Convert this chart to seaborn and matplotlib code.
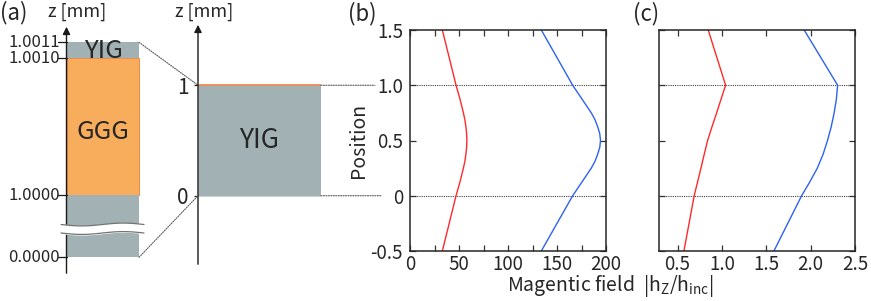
import numpy as np
import matplotlib
matplotlib.use("Agg")
import matplotlib.pyplot as plt
import seaborn as sns
from matplotlib.patches import Rectangle, ConnectionPatch
from matplotlib.transforms import blended_transform_factory

# ---- data ----
pos_b = [-0.5, -0.25, 0.0, 0.125, 0.25, 0.3125, 0.375, 0.4375, 0.5,
         0.5625, 0.625, 0.6875, 0.75, 0.875, 1.0, 1.25, 1.5]
red_b = [33, 40, 47, 51, 54.5, 56, 57, 57.8, 58,
         57.8, 57, 56, 54.5, 51, 47, 40, 33]
blue_b = [134, 150, 166, 175.5, 185, 188.8, 191.5, 193.6, 194.4,
          193.6, 191.5, 188.8, 185, 175.5, 166, 150, 134]

pos_c = [-0.5, 0.0, 0.125, 0.25, 0.375, 0.5, 0.625, 0.75, 0.875, 1.0, 1.5]
red_c = [0.571, 0.687, 0.725, 0.763, 0.80, 0.838, 0.888, 0.94, 0.99, 1.041, 0.845]
blue_c = [1.586, 1.898, 1.99, 2.075, 2.14, 2.19, 2.232, 2.265, 2.29, 2.304, 1.927]

layer_names = ["YIG", "GGG", "YIG"]
z_labels_a = ["1.0011", "1.0010", "1.0000", "0.0000"]
z_ticks_mid = [0, 1]
yig_range = (0.0, 1.0)

b_xticks = [0, 50, 100, 150, 200]
b_yticks = [-0.5, 0, 0.5, 1.0, 1.5]
b_ylabels = ["-0.5", "0", "0.5", "1.0", "1.5"]
c_xticks = [0.5, 1.0, 1.5, 2.0, 2.5]

YIG_C = "#a2b2b4"
GGG_C = "#f7ad5c"
EDGE_C = "#ec8a50"
RED = "#ff2a2a"
BLUE = "#2f62f0"

sns.set_theme(style="ticks")
plt.rcParams["font.family"] = ["Noto Sans CJK JP", "DejaVu Sans"]
plt.rcParams["axes.linewidth"] = 1.1

W, H = 871, 301
fig = plt.figure(figsize=(W / 100, H / 100), dpi=100)
fig.patch.set_facecolor("white")

def frac(x0, y0, x1, y1):
    return [x0 / W, 1 - y1 / H, (x1 - x0) / W, (y1 - y0) / H]

# ---- (b) and (c) ----
ax_b = fig.add_axes(frac(410, 30, 606, 251))
ax_c = fig.add_axes(frac(659, 30, 855, 251))

sns.lineplot(x=red_b, y=pos_b, sort=False, estimator=None, color=RED, lw=1.0, ax=ax_b)
sns.lineplot(x=blue_b, y=pos_b, sort=False, estimator=None, color=BLUE, lw=1.0, ax=ax_b)
sns.lineplot(x=red_c, y=pos_c, sort=False, estimator=None, color=RED, lw=1.0, ax=ax_c)
sns.lineplot(x=blue_c, y=pos_c, sort=False, estimator=None, color=BLUE, lw=1.0, ax=ax_c)

for ax in (ax_b, ax_c):
    ax.set_ylim(-0.5, 1.5)
    ax.set_yticks(b_yticks)
    for yv in yig_range:
        ax.axhline(yv, color="0.25", ls=(0, (1, 1)), lw=0.8, zorder=0)
    ax.tick_params(which="both", direction="in", top=True, right=True,
                   length=4, width=0.9, labelsize=13.5, pad=2, color="0.2")
    ax.tick_params(axis="y", pad=5)
    ax.set_xlabel("")
    ax.set_ylabel("")

ax_b.set_xlim(0, 200)
ax_b.set_xticks(b_xticks)
ax_b.set_xticks([25, 75, 125, 175], minor=True)
ax_b.set_yticklabels(b_ylabels)
ax_b.set_ylabel("Position", fontsize=14, labelpad=1)

ax_c.set_xlim(0.29, 2.5)
ax_c.set_xticks(c_xticks)
ax_c.set_xticklabels([f"{v:.1f}" for v in c_xticks])
ax_c.set_yticklabels([])

fig.text(507 / W, 1 - 286 / H, r"Magentic field  $\mathregular{|h_{Z}/h_{inc}|}$",
         fontsize=14, ha="left", va="center")

# ---- middle schematic (same z scale as (b)) ----
top_m = 1.5 + 8 / 110.5
bot_m = -0.5 - 16 / 110.5
ax_m = fig.add_axes(frac(198, 22, 321, 267))
ax_m.set_xlim(0, 1)
ax_m.set_ylim(bot_m, top_m)
for s in ax_m.spines.values():
    s.set_visible(False)
ax_m.set_xticks([])
ax_m.set_yticks(z_ticks_mid)
ax_m.set_yticklabels([str(v) for v in z_ticks_mid])
ax_m.tick_params(axis="y", direction="out", length=3, width=0.9, labelsize=15, pad=4)
ax_m.add_patch(Rectangle((0, yig_range[0]), 1, yig_range[1] - yig_range[0],
                         facecolor=YIG_C, edgecolor="#c8d0d0", lw=0.6))
ax_m.plot([0, 1], [yig_range[1], yig_range[1]], color=EDGE_C, lw=1.3)
ax_m.text(0.5, 0.5, layer_names[0], ha="center", va="center", fontsize=19)
ax_m.annotate("", xy=(0, top_m), xytext=(0, bot_m), xycoords="data",
              arrowprops=dict(arrowstyle="-|>", color="k", lw=1.0, mutation_scale=11),
              annotation_clip=False)
fig.text(204 / W, 1 - 12 / H, "z [mm]", fontsize=13, ha="center", va="center")

# ---- left schematic (broken z axis, pixel canvas) ----
ax_a = fig.add_axes([0, 0, 200 / W, 1])
ax_a.set_xlim(0, 200)
ax_a.set_ylim(H, 0)
ax_a.axis("off")
ya = [42.3, 57.7, 195.0, 257.3]
xa0, xa1 = 67, 139
ax_a.add_patch(Rectangle((xa0, ya[0]), xa1 - xa0, ya[1] - ya[0], facecolor=YIG_C, lw=0))
ax_a.add_patch(Rectangle((xa0, ya[1]), xa1 - xa0, ya[2] - ya[1], facecolor=GGG_C,
                         edgecolor=EDGE_C, lw=0.7))
ax_a.add_patch(Rectangle((xa0, ya[2]), xa1 - xa0, ya[3] - ya[2], facecolor=YIG_C, lw=0))
ax_a.annotate("", xy=(66.5, 24), xytext=(66.5, 276), xycoords="data",
              arrowprops=dict(arrowstyle="-|>", color="k", lw=1.0, mutation_scale=11),
              annotation_clip=False)
for yv, lab in zip(ya, z_labels_a):
    ax_a.plot([58, 66.5], [yv, yv], color="k", lw=0.9)
    ax_a.text(60, yv + 0.5, lab, ha="right", va="center", fontsize=12)
ax_a.text((xa0 + xa1) / 2, 51, layer_names[0], ha="center", va="center", fontsize=18.5)
ax_a.text((xa0 + xa1) / 2, 132, layer_names[1], ha="center", va="center", fontsize=18.5)

# axis break
xw = np.linspace(61, 144, 60)
wave = 1.4 * np.sin((xw - 61) / 83 * 2 * np.pi)
ax_a.fill_between(xw, 224.5 + wave, 233 + wave, color="white", zorder=5)
ax_a.plot(xw, 224.5 + wave, color="0.45", lw=0.9, zorder=6)
ax_a.plot(xw, 233 + wave, color="0.45", lw=0.9, zorder=6)
fig.text(77 / W, 1 - 12 / H, "z [mm]", fontsize=13, ha="center", va="center")

# ---- connectors ----
dot = dict(ls=(0, (1, 1.2)), color="0.35", lw=0.8)
fig.add_artist(ConnectionPatch(xyA=(xa1, ya[0]), coordsA=ax_a.transData,
                               xyB=(0, yig_range[1]), coordsB=ax_m.transData, **dot))
fig.add_artist(ConnectionPatch(xyA=(xa1, ya[3]), coordsA=ax_a.transData,
                               xyB=(0, yig_range[0]), coordsB=ax_m.transData, **dot))
bt = blended_transform_factory(fig.transFigure, ax_b.transData)
for yv, xend in zip(yig_range, [381, 375]):
    fig.add_artist(ConnectionPatch(xyA=(1, yv), coordsA=ax_m.transData,
                                   xyB=(xend / W, yv), coordsB=bt, **dot))

# ---- panel letters ----
fig.text(14 / W, 1 - 13 / H, "(a)", fontsize=16, ha="center", va="center")
fig.text(362 / W, 1 - 14 / H, "(b)", fontsize=16, ha="center", va="center")
fig.text(646 / W, 1 - 14 / H, "(c)", fontsize=16, ha="center", va="center")

fig.savefig("out.png", dpi=100, facecolor="white")
